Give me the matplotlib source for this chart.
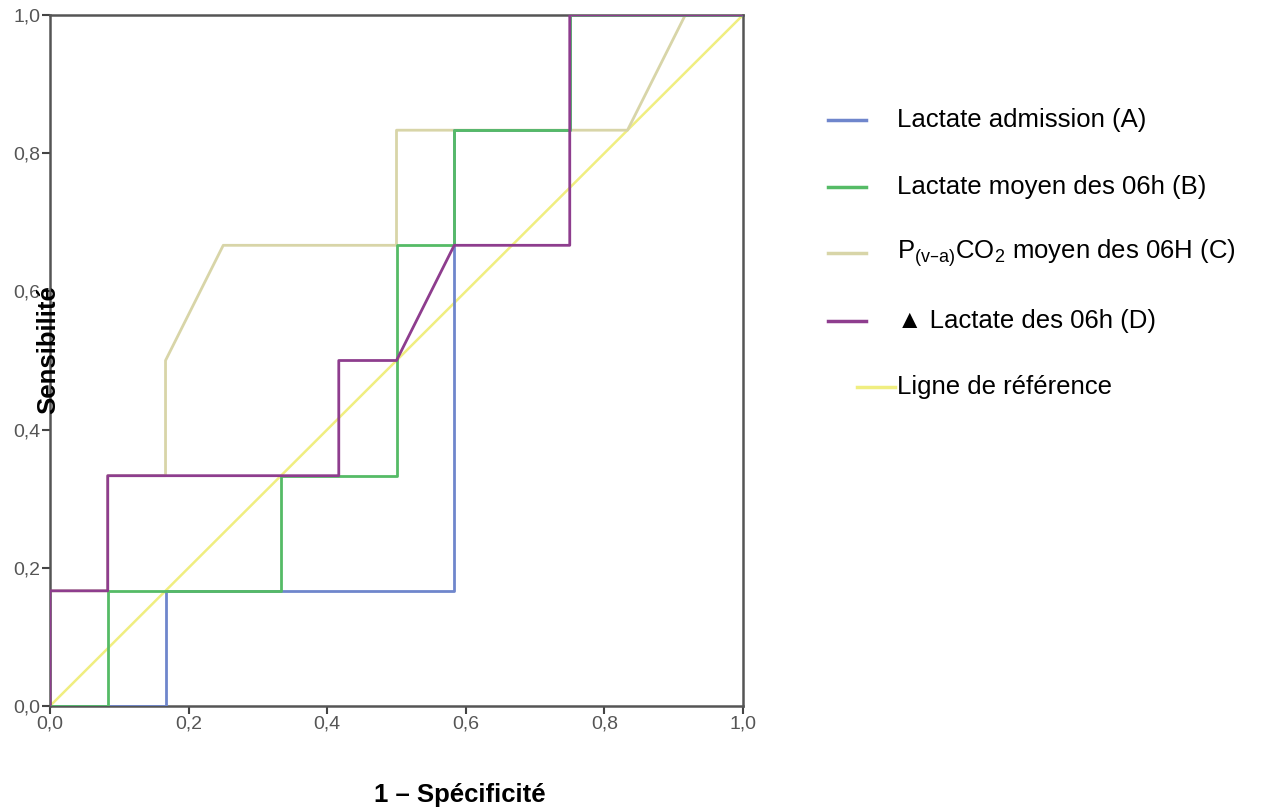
import matplotlib
matplotlib.use("Agg")
import matplotlib.pyplot as plt
from matplotlib.ticker import FuncFormatter

plt.rcParams['font.family'] = ['Liberation Sans', 'DejaVu Sans']

# ROC curves: (1 - specificity, sensitivity)
a_x = [0, 0.1667, 0.1667, 0.5833, 0.5833, 0.5833, 0.75, 0.75, 1.0]
a_y = [0, 0, 0.1667, 0.1667, 0.6667, 0.8333, 0.8333, 1.0, 1.0]

b_x = [0, 0.0833, 0.0833, 0.3333, 0.3333, 0.5, 0.5, 0.5833, 0.5833, 0.75, 0.75, 1.0]
b_y = [0, 0, 0.1667, 0.1667, 0.3333, 0.3333, 0.6667, 0.6667, 0.8333, 0.8333, 1.0, 1.0]

c_x = [0, 0, 0.0833, 0.0833, 0.1667, 0.1667, 0.25, 0.5, 0.5, 0.8333, 0.9167, 1.0]
c_y = [0, 0.1667, 0.1667, 0.3333, 0.3333, 0.5, 0.6667, 0.6667, 0.8333, 0.8333, 1.0, 1.0]

d_x = [0, 0, 0.0833, 0.0833, 0.4167, 0.4167, 0.5, 0.5833, 0.75, 0.75, 1.0]
d_y = [0, 0.1667, 0.1667, 0.3333, 0.3333, 0.5, 0.5, 0.6667, 0.6667, 1.0, 1.0]

ref_x = [0, 1]
ref_y = [0, 1]

labels = ["Lactate admission (A)",
          "Lactate moyen des 06h (B)",
          r"P$_{\mathregular{(v–a)}}$CO$_{\mathregular{2}}$ moyen des 06H (C)",
          "▲ Lactate des 06h (D)",
          "Ligne de référence"]
colors = ["#6f86cc", "#55bb66", "#d8d5a8", "#8e3d8e", "#f0ee80"]

ticks = [0.0, 0.2, 0.4, 0.6, 0.8, 1.0]

fig = plt.figure(figsize=(12.68, 8.08), dpi=100)
ax = fig.add_axes([50/1268, 1-706/808, (743-50)/1268, (706-15)/808])

ax.plot(ref_x, ref_y, color=colors[4], lw=1.8, zorder=1)
ax.plot(c_x, c_y, color=colors[2], lw=2.0, zorder=2)
ax.plot(a_x, a_y, color=colors[0], lw=2.0, zorder=3)
ax.plot(b_x, b_y, color=colors[1], lw=2.0, zorder=4)
ax.plot(d_x, d_y, color=colors[3], lw=2.0, zorder=5)

ax.set_xlim(0, 1)
ax.set_ylim(0, 1)
ax.set_xticks(ticks)
ax.set_yticks(ticks)
fmt = FuncFormatter(lambda v, p: f"{v:.1f}".replace('.', ','))
ax.xaxis.set_major_formatter(fmt)
ax.yaxis.set_major_formatter(fmt)
ax.tick_params(direction='out', length=6, width=1.5, color='#444444',
               labelcolor='#555555', labelsize=14, pad=1)
for s in ax.spines.values():
    s.set_color('#555555')
    s.set_linewidth(1.8)

fig.text(460/1268, 1-795/808, "1 – Spécificité", ha='center', va='center',
         fontsize=18.5, fontweight='bold')
fig.text(48/1268, 1-350/808, "Sensibilité", ha='center', va='center',
         rotation=90, fontsize=18.5, fontweight='bold')

# legend
rows = [120, 187, 253, 321, 387]
for i, (lab, col) in enumerate(zip(labels, colors)):
    yf = 1 - rows[i]/808
    if i < 4:
        x0, x1 = 828, 866
    else:
        x0, x1 = 857, 895
    fig.add_artist(plt.Line2D([x0/1268, x1/1268], [yf, yf], color=col, lw=2.5))
    fig.text(897/1268, yf, lab, ha='left', va='center', fontsize=18.5)

fig.savefig("out.png", dpi=100)
